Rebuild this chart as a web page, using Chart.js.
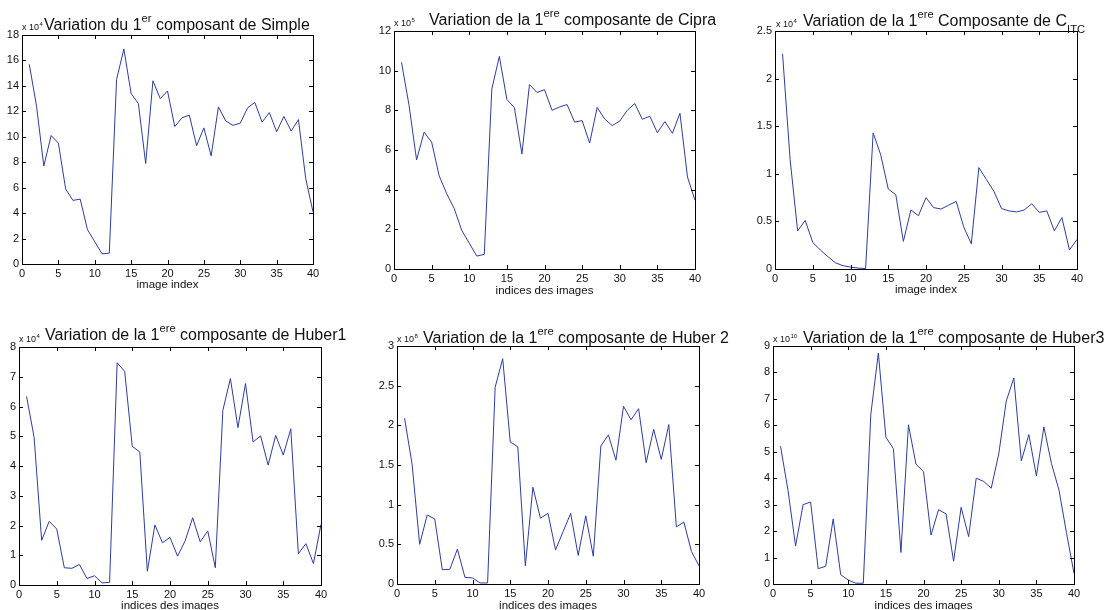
<!DOCTYPE html>
<html>
<head>
<meta charset="utf-8">
<script src="https://cdn.jsdelivr.net/npm/chart.js@4.4.1/dist/chart.umd.min.js"></script>
<style>
html, body { margin: 0; padding: 0; background: #fff; overflow: hidden; width: 1109px; height: 610px; }
canvas { position: absolute; left: 0; top: 0; }
</style>
</head>
<body>
<canvas id="c0" width="1109" height="640"></canvas>
<canvas id="c1" width="1109" height="640"></canvas>
<canvas id="c2" width="1109" height="640"></canvas>
<canvas id="c3" width="1109" height="640"></canvas>
<canvas id="c4" width="1109" height="640"></canvas>
<canvas id="c5" width="1109" height="640"></canvas>
<script>
// values (x = image 1..40)
const simple = [15.7, 12.4, 7.7, 10.1, 9.5, 5.9, 5.0, 5.1, 2.7, 1.75, 0.8, 0.85, 14.5, 16.9, 13.4, 12.6, 7.9, 14.4, 13.0, 13.6,
    10.8, 11.5, 11.7, 9.3, 10.7, 8.5, 12.35, 11.25, 10.9, 11.07, 12.27, 12.7, 11.15, 11.9, 10.4, 11.6, 10.45, 11.35, 6.7, 4.1];
const cipra = [10.42, 8.25, 5.5, 6.9, 6.4, 4.7, 3.8, 3.05, 1.95, 1.3, 0.65, 0.74, 9.08, 10.72, 8.55, 8.13, 5.8, 9.3, 8.9, 9.04,
    8.0, 8.17, 8.29, 7.41, 7.48, 6.35, 8.15, 7.56, 7.23, 7.46, 8.0, 8.34, 7.55, 7.7, 6.87, 7.43, 6.84, 7.85, 4.64, 3.46];
const citc = [2.26, 1.15, 0.40, 0.51, 0.28, 0.2, 0.13, 0.065, 0.035, 0.02, 0.01, 0.005, 1.43, 1.2, 0.84, 0.78, 0.29, 0.62, 0.56, 0.75,
    0.645, 0.63, 0.67, 0.71, 0.44, 0.265, 1.065, 0.94, 0.815, 0.635, 0.61, 0.6, 0.62, 0.685, 0.595, 0.61, 0.4, 0.54, 0.2, 0.31];
const huber1 = [6.34, 4.97, 1.5, 2.14, 1.88, 0.58, 0.56, 0.69, 0.22, 0.31, 0.07, 0.09, 7.47, 7.18, 4.66, 4.47, 0.46, 2.02, 1.42, 1.6,
    0.97, 1.48, 2.26, 1.45, 1.82, 0.58, 5.87, 6.94, 5.29, 6.77, 4.81, 5.01, 4.03, 5.03, 4.37, 5.25, 1.05, 1.39, 0.72, 2.04];
const huber2 = [2.09, 1.51, 0.5, 0.87, 0.82, 0.18, 0.185, 0.44, 0.084, 0.076, 0.013, 0.013, 2.48, 2.84, 1.79, 1.73, 0.23, 1.22, 0.83, 0.89,
    0.43, 0.66, 0.89, 0.36, 0.86, 0.35, 1.74, 1.88, 1.56, 2.24, 2.07, 2.21, 1.53, 1.95, 1.57, 2.01, 0.72, 0.78, 0.41, 0.23];
const huber3 = [5.21, 3.53, 1.44, 3.0, 3.1, 0.58, 0.67, 2.46, 0.35, 0.15, 0.03, 0.03, 6.42, 8.73, 5.55, 5.12, 1.19, 6.02, 4.53, 4.25,
    1.85, 2.81, 2.65, 0.86, 2.9, 1.79, 4.0, 3.88, 3.62, 4.92, 6.92, 7.79, 4.65, 5.65, 4.09, 5.94, 4.56, 3.56, 1.94, 0.4];

const series = [simple, cipra, citc, huber1, huber2, huber3];
const yMax = [18, 12, 2.5, 8, 3, 9];
const yStep = [2, 2, 0.5, 1, 0.5, 1];
const exponents = ["4", "5", "4", "4", "8", "10"];
const xTitles = ["image index", "indices des images", "image index", "indices des images", "indices des images", "indices des images"];
const titles = [
    [["Variation du 1", ""], ["er", "sup"], [" composant de Simple", ""]],
    [["Variation de la 1", ""], ["ere", "sup"], [" composante de Cipra", ""]],
    [["Variation de la 1", ""], ["ere", "sup"], [" Composante de C", ""], ["ITC", "sub"]],
    [["Variation de la 1", ""], ["ere", "sup"], [" composante de Huber1", ""]],
    [["Variation de la 1", ""], ["ere", "sup"], [" composante de Huber 2", ""]],
    [["Variation de la 1", ""], ["ere", "sup"], [" composante de Huber3", ""]]
];

// panel geometry (axes box, title and multiplier anchors)
const boxes = [
    { l: 22, r: 313, t: 35, b: 264, tx: 44, ty: 30, mx: 22, my: 30, xt: 285 },
    { l: 394, r: 695, t: 31, b: 269, tx: 429, ty: 25, mx: 394, my: 26, xt: 291 },
    { l: 775, r: 1077, t: 31, b: 269, tx: 803, ty: 26, mx: 776, my: 27, xt: 290 },
    { l: 19, r: 321, t: 347, b: 585, tx: 45, ty: 340, mx: 19, my: 342, xt: 606 },
    { l: 397, r: 699, t: 346, b: 584, tx: 423, ty: 343, mx: 397, my: 342, xt: 606 },
    { l: 773, r: 1074, t: 346, b: 584, tx: 803, ty: 343, mx: 773, my: 342, xt: 606 }
];

const FONT = '"Liberation Sans", Arial, Helvetica, sans-serif';
const W = 1109, H = 640, Y_W = 40, XT_SIZE = 11.5;

function drawPieces(ctx, pieces, x, y, size) {
    pieces.forEach(([txt, kind]) => {
        let s = size, dy = 0;
        if (kind === "sup") { s = size * 0.7; dy = -size * 0.5; }
        if (kind === "sub") { s = size * 0.7; dy = size * 0.42; }
        ctx.font = s + "px " + FONT;
        ctx.fillText(txt, x, y + dy);
        x += ctx.measureText(txt).width;
    });
}

const matlabAxes = {
    id: "matlabAxes",
    afterDraw(chart, args, opts) {
        const { ctx, chartArea: a, scales: { x, y } } = chart;
        ctx.save();
        ctx.strokeStyle = "#000";
        ctx.lineWidth = 1;
        ctx.strokeRect(Math.round(a.left) + 0.5, Math.round(a.top) + 0.5, Math.round(a.right - a.left), Math.round(a.bottom - a.top));
        ctx.beginPath();
        const tl = 4;
        x.ticks.forEach(t => {
            const px = Math.round(x.getPixelForValue(t.value)) + 0.5;
            ctx.moveTo(px, a.bottom); ctx.lineTo(px, a.bottom - tl);
            ctx.moveTo(px, a.top); ctx.lineTo(px, a.top + tl);
        });
        y.ticks.forEach(t => {
            const py = Math.round(y.getPixelForValue(t.value)) + 0.5;
            ctx.moveTo(a.left, py); ctx.lineTo(a.left + tl, py);
            ctx.moveTo(a.right, py); ctx.lineTo(a.right - tl, py);
        });
        ctx.stroke();

        ctx.fillStyle = "#111";
        ctx.textAlign = "left";
        ctx.textBaseline = "alphabetic";
        // exponent multiplier
        ctx.font = "9px " + FONT;
        ctx.fillText("x 10", opts.box.mx, opts.box.my);
        const w = ctx.measureText("x 10").width;
        ctx.font = "6px " + FONT;
        ctx.fillText(opts.exp, opts.box.mx + w + 0.5, opts.box.my - 4);
        // title
        drawPieces(ctx, opts.title, opts.box.tx, opts.box.ty, 16);
        ctx.restore();
    }
};

series.forEach((vals, i) => {
    const bx = boxes[i];
    const xH = bx.xt + XT_SIZE * 0.6 - bx.b;
    new Chart(document.getElementById("c" + i), {
        type: "line",
        data: {
            datasets: [{
                data: vals.map((v, k) => ({ x: k + 1, y: v })),
                borderColor: "#2b3ca8",
                borderWidth: 1,
                pointRadius: 0,
                tension: 0,
                fill: false
            }]
        },
        options: {
            responsive: false,
            animation: false,
            events: [],
            layout: {
                padding: { left: bx.l - Y_W, top: bx.t, right: W - bx.r, bottom: H - bx.b - xH }
            },
            plugins: {
                legend: { display: false },
                tooltip: { enabled: false },
                matlabAxes: { box: bx, exp: exponents[i], title: titles[i] }
            },
            scales: {
                x: {
                    type: "linear",
                    min: 0, max: 40,
                    grid: { display: false, drawTicks: false },
                    border: { display: false },
                    ticks: { stepSize: 5, padding: 3, maxRotation: 0, color: "#111", font: { family: FONT, size: 11 },
                        callback: v => String(v) },
                    title: { display: true, text: xTitles[i], color: "#111", padding: 0, font: { family: FONT, size: XT_SIZE } },
                    afterFit(scale) { scale.height = xH; }
                },
                y: {
                    min: 0, max: yMax[i],
                    grid: { display: false, drawTicks: false },
                    border: { display: false },
                    ticks: { stepSize: yStep[i], padding: 3, color: "#111", font: { family: FONT, size: 11 },
                        callback: v => String(v) },
                    afterFit(scale) { scale.width = Y_W; }
                }
            }
        },
        plugins: [matlabAxes]
    });
});
</script>
</body>
</html>
